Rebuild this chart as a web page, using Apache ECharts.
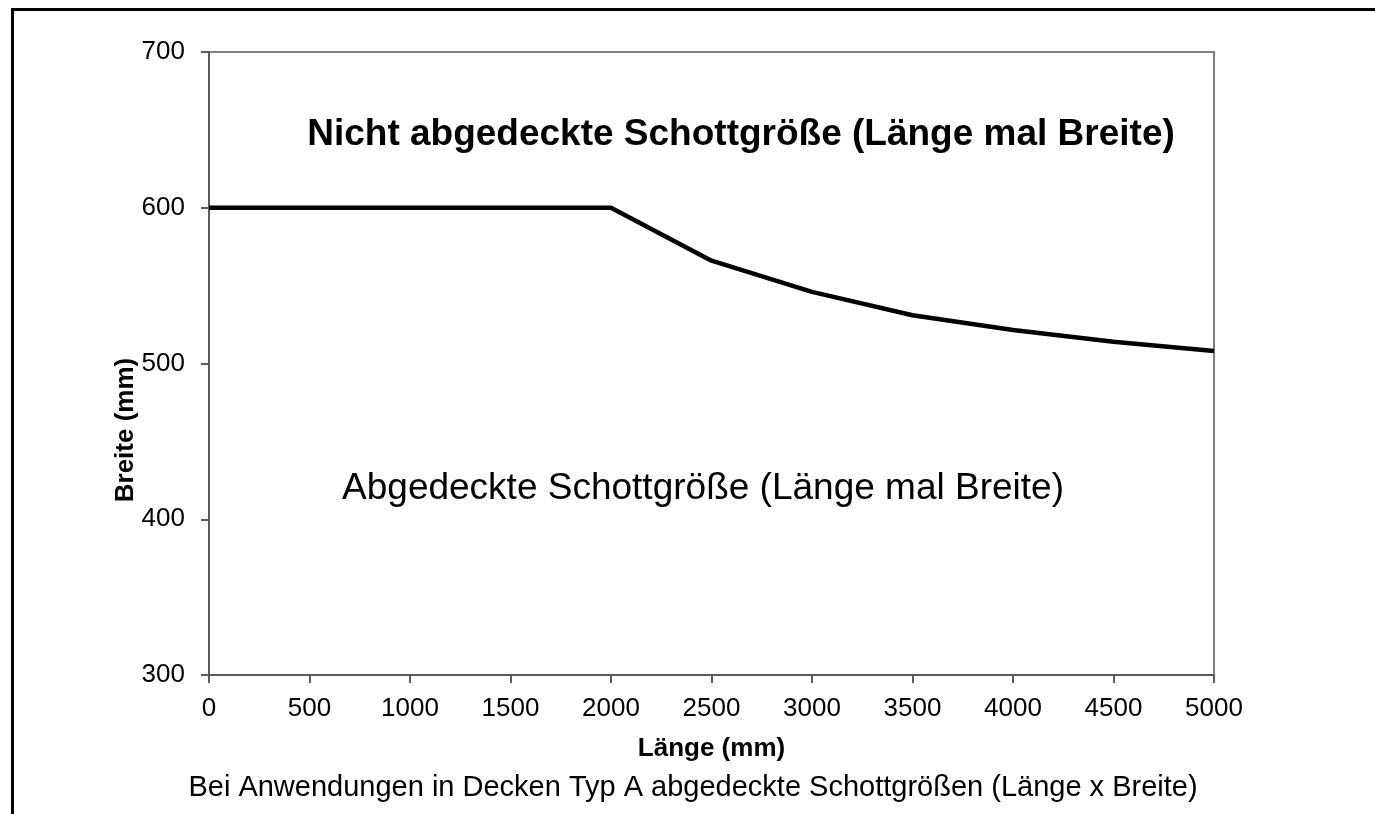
<!DOCTYPE html>
<html>
<head>
<meta charset="utf-8">
<script src="https://cdn.jsdelivr.net/npm/echarts@6/dist/echarts.min.js"></script>
<style>
html,body{margin:0;padding:0;background:#fff;}
#c{width:1375px;height:814px;}
</style>
</head>
<body>
<div id="c"></div>
<script>
var laenge = [0, 500, 1000, 1500, 2000, 2500, 3000, 3500, 4000, 4500, 5000];
var breite = [600, 600, 600, 600, 600, 566, 546, 531, 521.5, 514, 508];
var xTicks = [0, 500, 1000, 1500, 2000, 2500, 3000, 3500, 4000, 4500, 5000];
var yTicks = [300, 400, 500, 600, 700];
var titleUpper = 'Nicht abgedeckte Schottgröße (Länge mal Breite)';
var titleLower = 'Abgedeckte Schottgröße (Länge mal Breite)';
var caption = 'Bei Anwendungen in Decken Typ A abgedeckte Schottgrößen (Länge x Breite)';
var xName = 'Länge (mm)';
var yName = 'Breite (mm)';

var FONT = '"Liberation Sans", Arial, sans-serif';
var chart = echarts.init(document.getElementById('c'), null, {renderer: 'canvas'});
var pts = laenge.map(function (x, i) { return [x, breite[i]]; });
var plain = function (v) { return String(v); };

chart.setOption({
  animation: false,
  backgroundColor: '#ffffff',
  grid: {left: 209, top: 52, right: 161, bottom: 139, show: true, borderColor: '#808080', borderWidth: 2, containLabel: false},
  xAxis: {
    type: 'value', min: xTicks[0], max: xTicks[xTicks.length - 1], interval: 500,
    name: xName, nameLocation: 'middle', nameGap: 61,
    nameTextStyle: {fontFamily: FONT, fontSize: 26, fontWeight: 'bold', color: '#000'},
    axisLine: {show: true, onZero: false, lineStyle: {color: '#5a5a5a', width: 2}},
    axisTick: {show: true, inside: false, length: 8, lineStyle: {color: '#5a5a5a', width: 2}},
    axisLabel: {margin: 21, fontFamily: FONT, fontSize: 26, color: '#000', formatter: plain},
    splitLine: {show: false}
  },
  yAxis: {
    type: 'value', min: yTicks[0], max: yTicks[yTicks.length - 1], interval: 100,
    axisLine: {show: true, onZero: false, lineStyle: {color: '#5a5a5a', width: 2}},
    axisTick: {show: true, inside: false, length: 8, lineStyle: {color: '#5a5a5a', width: 2}},
    axisLabel: {margin: 24, fontFamily: FONT, fontSize: 26, color: '#000', formatter: plain},
    splitLine: {show: false}
  },
  series: [{
    type: 'line', data: pts, symbol: 'none', smooth: false,
    lineStyle: {color: '#000', width: 4.5}
  }],
  graphic: [
    {type: 'line', shape: {x1: 11, y1: 9.5, x2: 1375, y2: 9.5}, style: {stroke: '#000', lineWidth: 3}},
    {type: 'line', shape: {x1: 12.5, y1: 8, x2: 12.5, y2: 814}, style: {stroke: '#000', lineWidth: 3}},
    {type: 'text', x: 741, y: 135, style: {text: titleUpper, font: 'bold 37px ' + FONT, fill: '#000', textAlign: 'center', textVerticalAlign: 'middle'}},
    {type: 'text', x: 703, y: 489, style: {text: titleLower, font: '37px ' + FONT, fill: '#000', textAlign: 'center', textVerticalAlign: 'middle'}},
    {type: 'text', x: 126, y: 430, rotation: Math.PI / 2, style: {text: yName, font: 'bold 26px ' + FONT, fill: '#000', textAlign: 'center', textVerticalAlign: 'middle'}},
    {type: 'text', x: 693, y: 788, style: {text: caption, font: '29px ' + FONT, fill: '#000', textAlign: 'center', textVerticalAlign: 'middle'}}
  ]
});
</script>
</body>
</html>
